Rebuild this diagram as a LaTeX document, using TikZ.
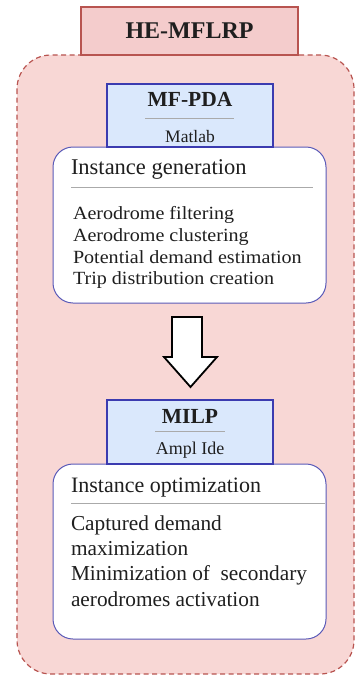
\documentclass[tikz,border=0pt]{standalone}
\usepackage{fontspec}
\setmainfont{Liberation Serif}
\newfontfamily\itemfont[FakeStretch=1.08]{Liberation Serif}
\definecolor{outerfill}{HTML}{F8D7D5}
\definecolor{redline}{HTML}{B85450}
\definecolor{titlefill}{HTML}{F4CCCC}
\definecolor{bluefill}{HTML}{DAE8FC}
\definecolor{blueline}{HTML}{3B3BB0}
\definecolor{boxline}{HTML}{5A5AB8}
\definecolor{sepline}{HTML}{AAAAAA}
\tikzset{
  outerbox/.style={draw=redline, fill=outerfill, line width=1.2pt, dash pattern=on 5pt off 3.5pt, rounded corners=34pt},
  titlebox/.style={draw=redline, fill=titlefill, line width=1.6pt},
  toolbox/.style={draw=blueline, fill=bluefill, line width=1.4pt},
  whitebox/.style={draw=boxline, fill=white, line width=1pt, rounded corners=20pt},
  sep/.style={draw=sepline, line width=0.7pt},
  txt/.style={inner sep=0pt, outer sep=0pt, text=black!88},
  bigarrow/.style={draw=black, fill=white, line width=1.8pt, line join=miter}
}
\begin{document}
\begin{tikzpicture}[x=1pt,y=-1pt]
\useasboundingbox (0,0) rectangle (355,677);
% outer dashed container
\path[outerbox] (17,55) rectangle (354,674);
% title
\path[titlebox] (81,7) rectangle (298,55);
\node[txt, anchor=base] (title) at (189.5,39) {\fontsize{24}{24}\selectfont\bfseries HE-MFLRP};
% first white box
\path[whitebox] (53,147) rectangle (326,303);
\node[txt, anchor=base west] (ig) at (71,174) {\fontsize{22.5}{22.5}\selectfont Instance generation};
\path[sep] (71,187) -- (313,187);
\node[txt, anchor=base west] (i1) at (73,219) {\itemfont\fontsize{18.6}{18.6}\selectfont Aerodrome filtering};
\node[txt, anchor=base west] (i2) at (73,241) {\itemfont\fontsize{18.6}{18.6}\selectfont Aerodrome clustering};
\node[txt, anchor=base west] (i3) at (73,263) {\itemfont\fontsize{18.6}{18.6}\selectfont Potential demand estimation};
\node[txt, anchor=base west] (i4) at (73,284) {\itemfont\fontsize{18.6}{18.6}\selectfont Trip distribution creation};
% MF-PDA box
\path[toolbox] (107,84) rectangle (273,147);
\node[txt, anchor=base] (mf) at (190,106) {\fontsize{21.5}{21.5}\selectfont\bfseries MF-PDA};
\path[sep] (145,118) -- (234,118);
\node[txt, anchor=base] (ml) at (190,142) {\fontsize{17.5}{17.5}\selectfont Matlab};
% block arrow
\path[bigarrow] (172,317) -- (202,317) -- (202,357) -- (217,357) -- (190.5,387) -- (164,357) -- (172,357) -- cycle;
% second white box
\path[whitebox] (53,464) rectangle (326,639);
\node[txt, anchor=base west] (io) at (71,492) {\fontsize{22}{22}\selectfont Instance optimization};
\path[sep] (71,503) -- (325,503);
\node[txt, anchor=base west] (o1) at (71,530) {\fontsize{21.3}{21.3}\selectfont Captured demand};
\node[txt, anchor=base west] (o2) at (71,555) {\fontsize{21.3}{21.3}\selectfont maximization};
\node[txt, anchor=base west] (o3) at (71,580) {\fontsize{21.3}{21.3}\selectfont Minimization of\ \ secondary};
\node[txt, anchor=base west] (o4) at (71,606) {\fontsize{21.3}{21.3}\selectfont aerodromes activation};
% MILP box
\path[toolbox] (107,400) rectangle (273,464);
\node[txt, anchor=base] (milp) at (190,423) {\fontsize{21.5}{21.5}\selectfont\bfseries MILP};
\path[sep] (155,431) -- (225,431);
\node[txt, anchor=base] (ampl) at (190,454) {\fontsize{18}{18}\selectfont Ampl Ide};
\end{tikzpicture}
\end{document}
